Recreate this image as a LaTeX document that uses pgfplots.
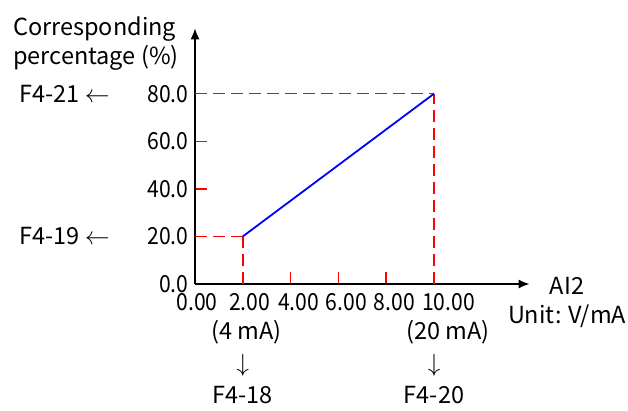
\documentclass[border=0pt]{standalone}
\usepackage{fontspec}
\setmainfont{Noto Sans CJK SC}
\newfontfamily\numfont{Noto Sans CJK SC}[FakeStretch=0.9]
\usepackage{pgfplots}
\pgfplotsset{compat=1.18}
\usetikzlibrary{arrows.meta}
\begin{document}
\begin{tikzpicture}[x=1pt,y=1pt]
\useasboundingbox (0,0) rectangle (628,410);
\begin{axis}[
  at={(195pt,126pt)}, anchor=south west,
  scale only axis, width=334.6pt, height=255.7pt,
  xmin=0, xmax=14, ymin=0, ymax=107.5,
  axis lines=left,
  axis line style={line width=1.5pt, -{Latex[length=11pt,width=9pt]}},
  font=\fontsize{23.5}{28.5}\selectfont,
  /pgf/number format/assume math mode=true,
  tick align=inside,
  major tick length=12pt,
  tick style={draw=red, line width=1.5pt},
  xtick={2,4,6,8,10},
  xticklabels={{\hspace*{-2pt}{\numfont 2.00}\\\hspace*{-8pt}(4 mA)},{\numfont 4.00},{\numfont 6.00},{\numfont 8.00},{\hspace*{13pt}{\numfont 10.00}\\\hspace*{12pt}(20 mA)}},
  extra x ticks={0},
  extra x tick labels={\hspace*{-12pt}{\numfont 0.00}},
  extra x tick style={major tick length=0pt},
  xticklabel style={align=center, xshift=8pt, yshift=-6pt},
  ytick={20,40,60,80},
  yticklabels={20.0,40.0,60.0,80.0},
  yticklabel style={xshift=-3pt, font=\fontsize{23.5}{28.5}\numfont},
  extra y ticks={0},
  extra y tick labels={0.0},
  extra y tick style={major tick length=0pt},
  xlabel={AI2\\Unit: V/mA},
  xlabel style={at={(axis description cs:1.112,0.027)}, anchor=north, align=center, inner sep=0pt},
  ylabel={Corresponding\\percentage (\%)},
  ylabel style={at={(axis description cs:-0.544,1.045)}, anchor=north west, rotate=-90, align=left, inner sep=0pt},
  clip=false,
]
\addplot[draw=red, line width=1.5pt, dash pattern=on 12pt off 6pt] coordinates {(0,80) (10,80)};
\addplot[draw=red, line width=1.5pt, dash pattern=on 12pt off 6pt] coordinates {(10,0) (10,80)};
\addplot[draw=red, line width=1.5pt, dash pattern=on 12pt off 6pt] coordinates {(0,20) (2,20)};
\addplot[draw=red, line width=1.5pt, dash pattern=on 12pt off 6pt] coordinates {(2,0) (2,20)};
\addplot[draw=blue, line width=1.8pt] coordinates {(2,20) (10,80)};
\node[anchor=east, inner sep=0pt, xshift=-85pt] at (axis cs:0,80) {F4-21 $\leftarrow$};
\node[anchor=east, inner sep=0pt, xshift=-85pt] at (axis cs:0,20) {F4-19 $\leftarrow$};
\node[inner sep=0pt, yshift=-81pt] at (axis cs:2,0) {$\downarrow$};
\node[inner sep=0pt, yshift=-81pt] at (axis cs:10,0) {$\downarrow$};
\node[anchor=base, inner sep=0pt, yshift=-119pt] at (axis cs:2,0) {F4-18};
\node[anchor=base, inner sep=0pt, yshift=-119pt] at (axis cs:10,0) {F4-20};
\end{axis}
\end{tikzpicture}
\end{document}
